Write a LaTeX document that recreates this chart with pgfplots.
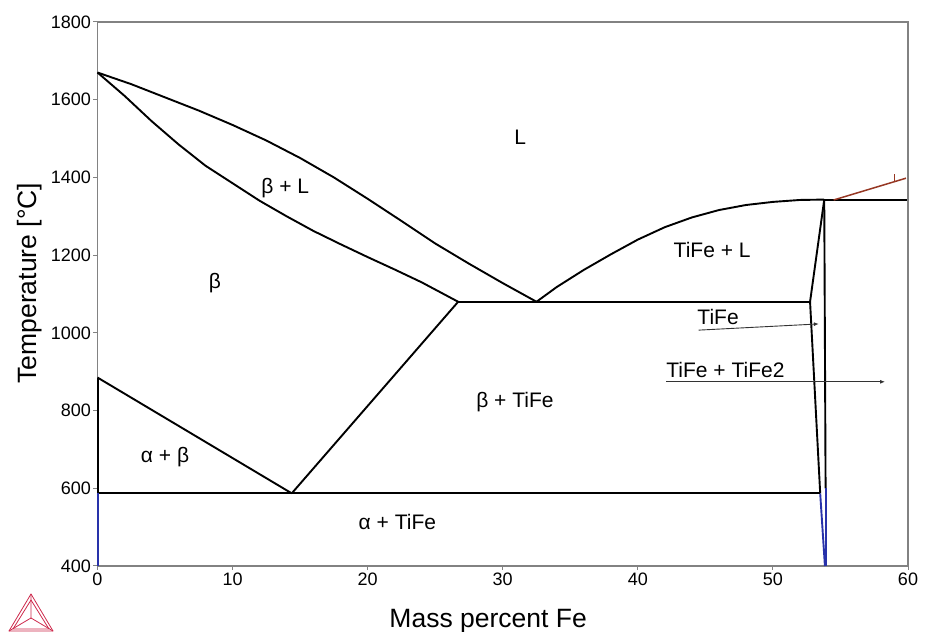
\documentclass[border=0pt]{standalone}
\usepackage{pgfplots}
\pgfplotsset{compat=1.18}
\usepackage{fontspec}
\setmainfont{Liberation Sans}
\usetikzlibrary{arrows.meta}

\definecolor{axgray}{RGB}{130,130,130}
\definecolor{phblue}{RGB}{40,50,170}
\definecolor{phbrown}{RGB}{150,55,35}
\definecolor{tclogo}{RGB}{205,40,75}
\newcommand\ticksize{\fontsize{18}{21}\selectfont}

\begin{document}
\begin{tikzpicture}
\useasboundingbox (-97.5pt,-66pt) rectangle (829.5pt,566pt);
\begin{axis}[
    at={(0pt,0pt)}, anchor=south west,
    scale only axis,
    width=810.5pt, height=544pt,
    xmin=0, xmax=60, ymin=400, ymax=1800,
    xtick={0,10,20,30,40,50,60},
    ytick={400,600,800,1000,1200,1400,1600,1800},
    /pgf/number format/assume math mode=true,
    /pgf/number format/1000 sep={},
    tick pos=left,
    tick align=outside,
    major tick length=4pt,
    axis line style={axgray, line width=1.2pt},
    every tick/.style={axgray, line width=1pt},
    tick label style={font=\ticksize},
    xticklabel style={yshift=1pt},
    yticklabel style={xshift=1pt},
    xlabel={Mass percent Fe},
    ylabel={Temperature [°C]},
    xlabel style={font=\fontsize{26.5}{30}\selectfont, at={(axis description cs:0.482,-0.101)}, anchor=center},
    ylabel style={font=\fontsize{26.5}{30}\selectfont, at={(axis description cs:-0.0833,0.52)}, anchor=center},
    clip=false,
]
% beta + L upper boundary (liquidus)
\addplot[black, line width=1.9pt] coordinates {
  (0,1670) (2.5,1640) (5,1606) (7.5,1572) (10,1535) (12.5,1495) (15,1450)
  (17.5,1400) (20,1345) (22.5,1288) (25,1230) (27.5,1178) (30,1128) (32.5,1080)
};
% beta solidus
\addplot[black, line width=1.9pt] coordinates {
  (0,1670) (2,1610) (4,1545) (6,1485) (8,1430) (10,1385) (12,1340) (14,1300)
  (16,1262) (18,1228) (20,1195) (22,1163) (24,1130) (26.7,1080)
};
% eutectic line
\addplot[black, line width=1.9pt] coordinates {(26.7,1080) (52.75,1080)};
% TiFe liquidus
\addplot[black, line width=1.9pt] coordinates {
  (32.5,1080) (34,1118) (36,1162) (38,1202) (40,1240) (42,1272) (44,1297)
  (46,1316) (48,1329) (50,1337) (52,1342) (53.8,1343)
};
% congruent line to the right
\addplot[black, line width=1.9pt] coordinates {(53.8,1343) (59.9,1343)};
% TiFe phase boundaries
\addplot[black, line width=1.9pt] coordinates {(53.8,1343) (52.75,1080) (53.5,587)};
\addplot[phblue, line width=1.9pt] coordinates {(53.5,587) (53.85,400)};
\addplot[black, line width=1.9pt] coordinates {(53.8,1343) (53.9,600)};
\addplot[phblue, line width=1.9pt] coordinates {(53.9,600) (53.9,400)};
% eutectoid line
\addplot[black, line width=1.9pt] coordinates {(0,587) (53.5,587)};
% beta / alpha+beta
\addplot[black, line width=1.9pt] coordinates {(0,885) (14.38,587)};
% beta / beta+TiFe
\addplot[black, line width=1.9pt] coordinates {(14.38,587) (26.7,1080)};
% alpha boundary
\addplot[black, line width=1.9pt] coordinates {(0.05,885) (0.05,587)};
\addplot[phblue, line width=1.9pt] coordinates {(0.05,587) (0.05,400)};
% brown line
\addplot[phbrown, line width=1.5pt] coordinates {(54.5,1342) (59.85,1398)};
\addplot[phbrown, line width=1pt] coordinates {(59.0,1392) (59.0,1408)};
% arrows
\addplot[black!80, line width=0.9pt, -{Latex[length=5pt,width=4pt]}] coordinates {(44.5,1007) (53.4,1023)};
\addplot[black!80, line width=0.9pt, -{Latex[length=5pt,width=4pt]}] coordinates {(42.1,874) (58.3,874)};
% phase labels
\begin{scope}[every node/.style={font=\fontsize{21}{25}\selectfont, inner sep=0pt}]
\node at (axis cs:31.3,1504) {L};
\node at (axis cs:13.9,1373) {β + L};
\node at (axis cs:8.7,1128) {β};
\node at (axis cs:45.5,1213) {TiFe + L};
\node[anchor=west] at (axis cs:44.4,1041) {TiFe};
\node[anchor=west] at (axis cs:42.1,905) {TiFe + TiFe2};
\node at (axis cs:30.9,822) {β + TiFe};
\node at (axis cs:5.0,680) {α + β};
\node at (axis cs:22.2,513) {α + TiFe};
\end{scope}
\end{axis}
% Thermo-Calc logo
\begin{scope}[tclogo, line width=0.8pt, line join=round]
\draw (-66.5pt,-28pt) -- (-88.5pt,-65pt) -- (-44.5pt,-65pt) -- cycle;
\draw (-66.5pt,-34pt) -- (-84.5pt,-63pt) -- (-48.5pt,-63pt) -- cycle;
\draw (-66.5pt,-28pt) -- (-66.5pt,-52pt) -- (-88.5pt,-65pt);
\draw (-66.5pt,-52pt) -- (-44.5pt,-65pt);
\end{scope}
\end{tikzpicture}
\end{document}
